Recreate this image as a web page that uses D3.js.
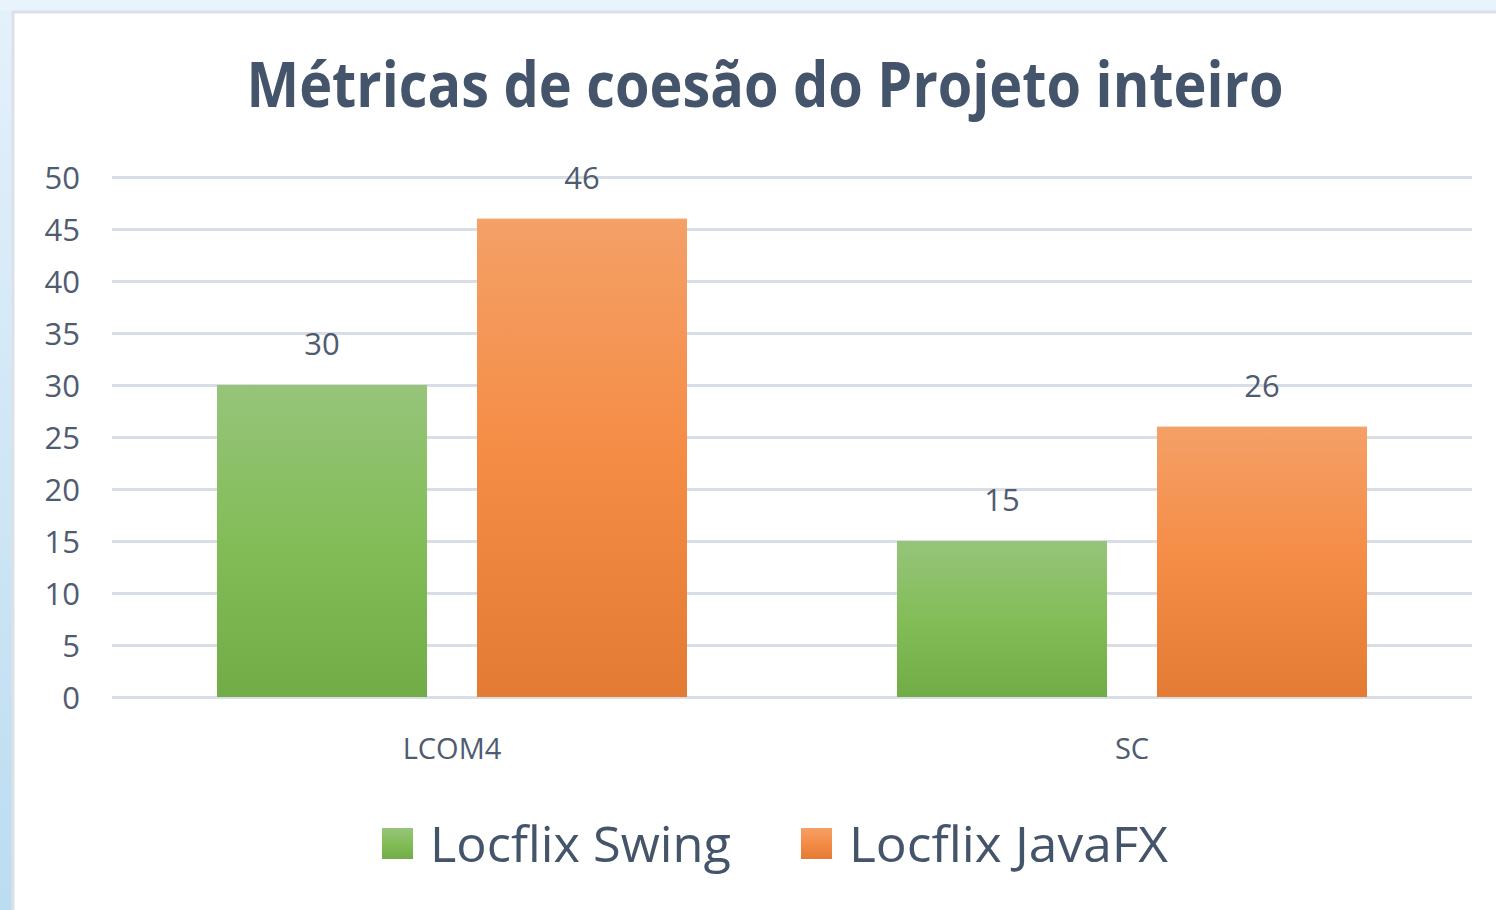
<!DOCTYPE html>
<meta charset="utf-8">
<style>
    body { margin: 0; background: #ffffff; }
    svg { display: block; font-family: "Open Sans", sans-serif; }
    .grid line { stroke: #d9dee6; stroke-width: 3; }
    .grid path { display: none; }
    .yaxis path, .yaxis line, .xaxis path, .xaxis line { display: none; }
    .yaxis text { font-family: "Open Sans", sans-serif; font-size: 31px; fill: #4f5c70; }
    .xaxis text { font-family: "Open Sans", sans-serif; font-size: 29px; fill: #4f5c70; }
    .value-label { font-family: "Open Sans", sans-serif; font-size: 31px; fill: #4f5c70; text-anchor: middle; }
</style>
<body>
<script src="https://cdn.jsdelivr.net/npm/d3@7"></script>
<script>
    const width = 1496;
    const height = 910;

    // data
    const categories = ["LCOM4", "SC"];
    const seriesNames = ["Locflix Swing", "Locflix JavaFX"];
    const swingValues = [30, 15];
    const javafxValues = [46, 26];
    const yTicks = [0, 5, 10, 15, 20, 25, 30, 35, 40, 45, 50];

    const colors = {
        "Locflix Swing": ["#96c47a", "#83bd58", "#71ac47"],
        "Locflix JavaFX": ["#f4a067", "#f58c45", "#e47b35"]
    };

    const margin = {top: 177, left: 112, right: 24, bottom: 213};

    const svg = d3.select("body").append("svg")
        .attr("width", width)
        .attr("height", height);

    const defs = svg.append("defs");
    seriesNames.forEach((s, i) => {
        const g = defs.append("linearGradient")
            .attr("id", "grad" + i)
            .attr("x1", 0).attr("y1", 0).attr("x2", 0).attr("y2", 1);
        g.append("stop").attr("offset", "0%").attr("stop-color", colors[s][0]);
        g.append("stop").attr("offset", "50%").attr("stop-color", colors[s][1]);
        g.append("stop").attr("offset", "100%").attr("stop-color", colors[s][2]);
    });
    const bgGrad = defs.append("linearGradient")
        .attr("id", "bgGrad").attr("x1", 0).attr("y1", 0).attr("x2", 0).attr("y2", 1);
    bgGrad.append("stop").attr("offset", "0%").attr("stop-color", "#e4f1fa");
    bgGrad.append("stop").attr("offset", "100%").attr("stop-color", "#bcdcf1");

    // outer backdrop and panel
    svg.append("rect").attr("width", width).attr("height", height).attr("fill", "url(#bgGrad)");
    svg.append("rect").attr("x", 0).attr("y", 0).attr("width", width).attr("height", 11).attr("fill", "#e8f3fb");
    svg.append("rect")
        .attr("x", 13).attr("y", 12)
        .attr("width", width).attr("height", height)
        .attr("fill", "#ffffff")
        .attr("stroke", "#dce1e7")
        .attr("stroke-width", 3);

    const chart = svg.append("g")
        .attr("transform", "translate(" + margin.left + "," + margin.top + ")");

    const x0 = d3.scaleBand()
        .domain(categories)
        .range([0, 1360])
        .paddingInner(0)
        .paddingOuter(0);

    // bars 210 wide with a 50px gap inside each category
    const x1 = d3.scaleBand()
        .domain(seriesNames)
        .range([105, 680 - 105])
        .paddingInner(50 / 260);

    const y = d3.scaleLinear()
        .domain([0, 50])
        .range([520, 0]);

    // gridlines
    chart.append("g")
        .attr("class", "grid")
        .call(d3.axisLeft(y).tickValues(yTicks).tickSize(-1360).tickFormat(""));

    // y axis labels
    chart.append("g")
        .attr("class", "yaxis")
        .attr("transform", "translate(-32,0)")
        .call(d3.axisLeft(y).tickValues(yTicks).tickSize(0).tickPadding(0))
        .selectAll("text").attr("dy", "0.36em");

    // x axis labels
    chart.append("g")
        .attr("class", "xaxis")
        .attr("transform", "translate(0,520)")
        .call(d3.axisBottom(x0).tickSize(0).tickPadding(0))
        .selectAll("text").attr("dy", "62px");

    const rows = categories.map((c, i) => ({
        category: c,
        values: [
            {series: seriesNames[0], value: swingValues[i]},
            {series: seriesNames[1], value: javafxValues[i]}
        ]
    }));

    const groups = chart.selectAll(".group")
        .data(rows)
        .enter().append("g")
        .attr("class", "group")
        .attr("transform", d => "translate(" + x0(d.category) + ",0)");

    groups.selectAll("rect")
        .data(d => d.values)
        .enter().append("rect")
        .attr("x", d => x1(d.series))
        .attr("y", d => y(d.value))
        .attr("width", x1.bandwidth())
        .attr("height", d => y(0) - y(d.value))
        .attr("fill", d => "url(#grad" + seriesNames.indexOf(d.series) + ")");

    groups.selectAll(".value-label")
        .data(d => d.values)
        .enter().append("text")
        .attr("class", "value-label")
        .attr("x", d => x1(d.series) + x1.bandwidth() / 2)
        .attr("y", d => y(d.value) - 30)
        .text(d => d.value);

    // title
    svg.append("text")
        .attr("x", 765)
        .attr("y", 107)
        .attr("text-anchor", "middle")
        .attr("font-size", 62)
        .attr("font-weight", "bold")
        .attr("fill", "#44546a")
        .attr("textLength", 1037)
        .attr("lengthAdjust", "spacingAndGlyphs")
        .text("Métricas de coesão do Projeto inteiro");

    // legend
    const legendX = [382, 801];
    const legendTextW = [301, 319];
    const legend = svg.selectAll(".legend")
        .data(seriesNames)
        .enter().append("g")
        .attr("class", "legend")
        .attr("transform", (d, i) => "translate(" + legendX[i] + ",828)");

    legend.append("rect")
        .attr("width", 31)
        .attr("height", 31)
        .attr("fill", (d, i) => "url(#grad" + i + ")");

    legend.append("text")
        .attr("x", 48)
        .attr("y", 34)
        .attr("font-size", 50)
        .attr("fill", "#44546a")
        .attr("textLength", (d, i) => legendTextW[i])
        .attr("lengthAdjust", "spacingAndGlyphs")
        .text(d => d);
</script>
</body>
</html>
